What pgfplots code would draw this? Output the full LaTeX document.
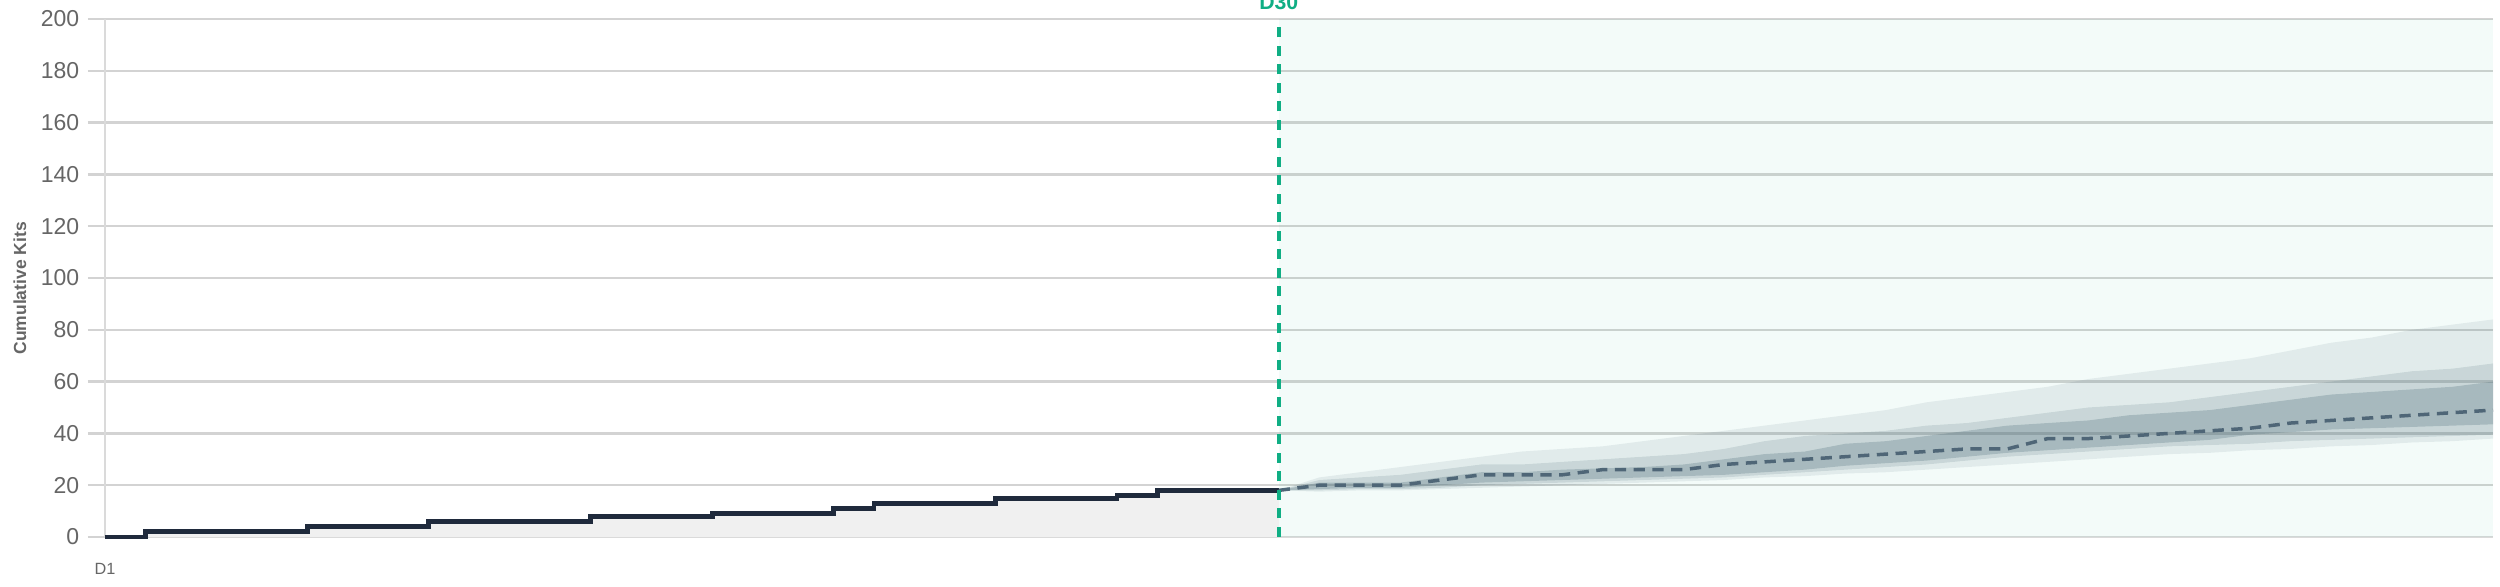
\documentclass[border=0pt]{standalone}
\usepackage{pgfplots}
\usepackage{pgfplotstable}
\pgfplotsset{compat=1.18}
\usepgfplotslibrary{fillbetween}
\usepackage{fontspec}
\setmainfont{Liberation Sans}
\definecolor{gridc}{HTML}{D3D3D3}
\definecolor{axc}{HTML}{DADADA}
\definecolor{tickc}{HTML}{666666}
\definecolor{stepc}{HTML}{1F2A3C}
\definecolor{areac}{HTML}{F0F0F0}
\definecolor{greenc}{HTML}{10AE84}
\definecolor{bandc}{HTML}{4A6272}
\definecolor{medc}{HTML}{4F6677}

\pgfplotstableread{
day val
1 0
2 2
6 4
9 6
13 8
16 9
19 11
20 13
23 15
26 16
27 18
30 18
}\obs

\pgfplotstableread{
day olo mlo ilo med ihi mhi ohi
30 18 18 18 18 18 18 18
31 17.5 18 18.5 20 21 22 23
32 18 18.5 19 20 21 23 25
33 18 18.5 19 20 21 24 27
34 18.5 19 20 22 23 26 29
35 19 20 21 24 25 28 31
36 19.5 20.5 21.5 24 25 28 33
37 20 21 22 24 26 29 34
38 20.5 21.5 22.5 26 26.5 30 35
39 21 22 23 26 27 31 37
40 21.5 22.5 23.5 26 28 32 39
41 22 23 24 28 30 34 41
42 23 24 25 29 32 37 43
43 23.5 25 26 30 33 39 45
44 24.5 26 27.5 31 36 40 47
45 25 27 28.5 32 37 41 49
46 26 28 29.5 33 39 43 52
47 27 29.5 31 34 41 44 54
48 28 31 32.5 34 43 46 56
49 29 32 33.5 38 44 48 58
50 30 33 34.5 38 45 50 61
51 31 34 35.5 39 47 51 63
52 32 35 36.5 40 48 52 65
53 32.5 35.5 37.5 41 49 54 67
54 33.5 36 39.5 42 51 56 69
55 34 37 40.5 44 53 58 72
56 35 37.5 41.5 45 55 60 75
57 35.5 38 42 46 56 62 77
58 36.5 38.5 42.5 47 57 64 80
59 37 39 43 48 58 65 82
60 38 39.5 43.5 49 60 67 84
}\fc

\begin{document}
\begin{tikzpicture}
\begin{axis}[
  at={(0,0)}, anchor=south west,
  scale only axis,
  width=955.2pt, height=207.2pt,
  xmin=1, xmax=60, ymin=0, ymax=200,
  clip=false,
  axis x line*=bottom, axis y line*=left,
  axis line style={draw=axc, line width=0.8pt},
  xtick={1}, xticklabels={D1},
  xtick style={draw=none},
  xticklabel style={font=\fontsize{6.5}{7}\selectfont, text=tickc, yshift=0pt},
  ytick={0,20,...,200},
  tick align=outside,
  major tick length=6.8pt,
  ytick style={draw=gridc, line width=1pt},
  yticklabel style={font=\fontsize{9.2}{10}\selectfont, text=tickc},
  /pgf/number format/assume math mode=true,
  ymajorgrids,
  major grid style={draw=gridc, line width=1pt},
  ylabel={Cumulative Kits},
  ylabel style={at={(axis description cs:-0.0356,0.48)}, anchor=center,
    font=\bfseries\fontsize{7}{8}\selectfont, text=tickc},
]
% forecast shade
\addplot[draw=none, fill=greenc, fill opacity=0.05] coordinates {(30,200) (60,200)} \closedcycle;
% observed area and step line
\addplot[const plot, draw=none, fill=areac] table[x=day,y=val]{\obs} \closedcycle;
\addplot[const plot, draw=stepc, line width=1.9pt] table[x=day,y=val]{\obs};
% bands
\addplot[name path=ohi, draw=none] table[x=day,y=ohi]{\fc};
\addplot[name path=olo, draw=none] table[x=day,y=olo]{\fc};
\addplot[name path=mhi, draw=none] table[x=day,y=mhi]{\fc};
\addplot[name path=mlo, draw=none] table[x=day,y=mlo]{\fc};
\addplot[name path=ihi, draw=none] table[x=day,y=ihi]{\fc};
\addplot[name path=ilo, draw=none] table[x=day,y=ilo]{\fc};
\addplot[draw=none, fill=bandc, fill opacity=0.10] fill between[of=ohi and olo];
\addplot[draw=none, fill=bandc, fill opacity=0.155] fill between[of=mhi and mlo];
\addplot[draw=none, fill=bandc, fill opacity=0.26] fill between[of=ihi and ilo];
% median
\addplot[draw=medc, line width=1.4pt, dash pattern=on 4.5pt off 3pt] table[x=day,y=med]{\fc};
% D30 marker
\addplot[draw=greenc, line width=1.6pt, dash pattern=on 4pt off 3.4pt] coordinates {(30,0) (30,200)};
\node[anchor=base, text=greenc, font=\bfseries\fontsize{8.5}{10}\selectfont, yshift=3.8pt] at (axis cs:30,200) {D30};
\end{axis}
\pgfresetboundingbox
\path[use as bounding box] (-42pt,-20pt) rectangle (958pt,214.8pt);
\end{tikzpicture}
\end{document}
